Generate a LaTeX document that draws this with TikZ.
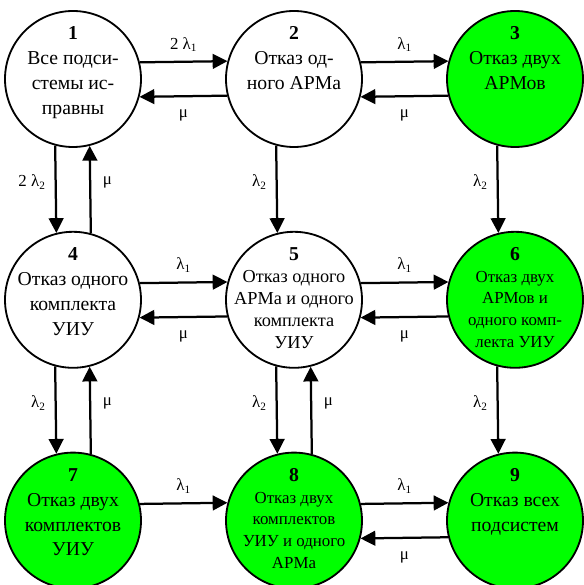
\documentclass[tikz,border=0pt]{standalone}
\usepackage{fontspec}
\setmainfont{Liberation Serif}
\usepackage{xcolor}
\usepackage{tikz}
\usetikzlibrary{arrows.meta, calc}
\definecolor{ink}{HTML}{000000}
\definecolor{lime}{HTML}{00FF00}
\newcommand{\statenum}[1]{{\fontsize{14}{17.7}\selectfont\textbf{#1}}}
\tikzset{
  state/.style={circle, draw=ink, line width=1.3pt, minimum size=3.4cm, inner sep=0pt},
  bigtxt/.style={font=\fontsize{14}{17.7}\selectfont, align=center, inner sep=0pt},
  midtxt/.style={font=\fontsize{13}{15.6}\selectfont, align=center, inner sep=0pt},
  smalltxt/.style={font=\fontsize{12}{15.4}\selectfont, align=center, inner sep=0pt},
  arr/.style={draw=ink, line width=1.6pt, -{Triangle[length=10.5pt, width=10.5pt]}},
  rate/.style={font=\fontsize{12}{14}\selectfont, text=ink}
}
\begin{document}
\begin{tikzpicture}
  \useasboundingbox (0,0) rectangle (14.6,14.625);
  % states of the grid, numbered row by row
  \foreach \n/\c/\r/\col/\sz/\txt in {%
    1/0/0/white/bigtxt/{Все подси-\\стемы ис-\\правны},
    2/1/0/white/bigtxt/{Отказ од-\\ного АРМа},
    3/2/0/lime/bigtxt/{Отказ двух\\АРМов},
    4/0/1/white/bigtxt/{Отказ одного\\комплекта\\УИУ},
    5/1/1/white/midtxt/{Отказ одного\\АРМа и одного\\комплекта\\УИУ},
    6/2/1/lime/smalltxt/{Отказ двух\\АРМов и\\одного комп-\\лекта УИУ},
    7/0/2/lime/bigtxt/{Отказ двух\\комплектов\\УИУ},
    8/1/2/lime/smalltxt/{Отказ двух\\комплектов\\УИУ и одного\\АРМа},
    9/2/2/lime/bigtxt/{Отказ всех\\подсистем}}{
    \node[state, fill=\col] (s\n) at ({1.825+5.525*\c},{12.65-5.52*\r}) {};
    \node[\sz, anchor=north] (t\n) at ([yshift=-0.41cm]s\n.north) {\statenum{\n}\\\txt};
  }
  % failures: to the right and downwards
  \foreach \a/\b/\lab in {1/2/{2 λ\textsubscript{1}}, 2/3/{λ\textsubscript{1}},
    4/5/{λ\textsubscript{1}}, 5/6/{λ\textsubscript{1}}, 7/8/{λ\textsubscript{1}},
    8/9/{λ\textsubscript{1}}}{
    \draw[arr] (s\a.14.5) -- (s\b.165.5) node[rate, midway, above=3pt] {\lab};
  }
  \foreach \a/\b/\lab in {1/4/{2 λ\textsubscript{2}}, 2/5/{λ\textsubscript{2}},
    3/6/{λ\textsubscript{2}}, 4/7/{λ\textsubscript{2}}, 5/8/{λ\textsubscript{2}},
    6/9/{λ\textsubscript{2}}}{
    \draw[arr] (s\a.255.5) -- (s\b.104.5) node[rate, pos=0.42, left=3pt] {\lab};
  }
  % repairs: to the left and upwards
  \foreach \a/\b in {2/1, 3/2, 5/4, 6/5, 9/8}{
    \draw[arr] (s\a.194.5) -- (s\b.345.5) node[rate, midway, below=5.5pt] {μ};
  }
  \foreach \a/\b in {4/1, 7/4, 8/5}{
    \draw[arr] (s\a.75.5) -- (s\b.284.5) node[rate, pos=0.58, right=5pt] {μ};
  }
\end{tikzpicture}
\end{document}
